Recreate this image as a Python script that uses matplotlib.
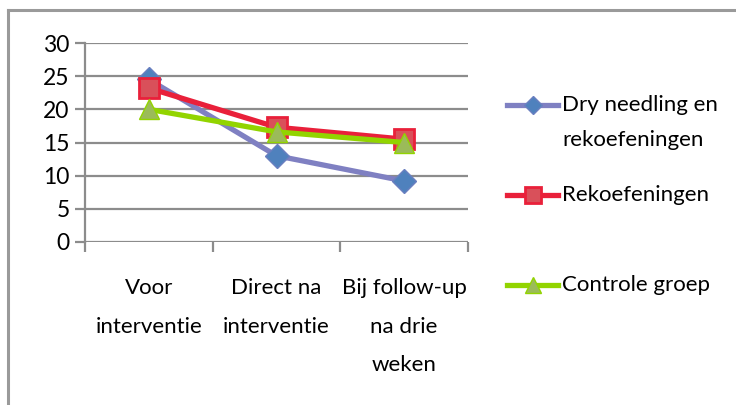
import matplotlib
matplotlib.use("Agg")
import matplotlib.pyplot as plt
from matplotlib.lines import Line2D

plt.rcParams['font.family'] = ['Lato', 'DejaVu Sans']

categories = ["Voor\ninterventie", "Direct na\ninterventie", "Bij follow-up\nna drie\nweken"]
series_names = ["Dry needling en\nrekoefeningen", "Rekoefeningen", "Controle groep"]
dry_needling = [24.5, 13.0, 9.2]
rekoefeningen = [23.2, 17.3, 15.5]
controle = [20.0, 16.6, 15.0]
y_ticks = [0, 5, 10, 15, 20, 25, 30]

styles = [
    dict(color="#7f80c2", marker="D", markersize=12, markerfacecolor="#4f81bd",
         markeredgecolor="#6a7fc0", zorder=3),
    dict(color="#e9203a", marker="s", markersize=14, markerfacecolor="#d9505a",
         markeredgecolor="#e9203a", markeredgewidth=2, zorder=4),
    dict(color="#92d400", marker="^", markersize=15, markerfacecolor="#9bbb59",
         markeredgecolor="#92d400", zorder=5),
]
values = [dry_needling, rekoefeningen, controle]

W, H = 736, 405
fig = plt.figure(figsize=(W / 100, H / 100), dpi=100)
fig.patch.set_facecolor("white")

def fx(px):
    return px / W

def fy(py):
    return 1 - py / H

# outer chart frame (top and left edges)
fig.add_artist(Line2D([fx(8), 1.0], [fy(10), fy(10)], color="#9a9a9a", lw=2.2))
fig.add_artist(Line2D([fx(8), fx(8)], [fy(10), 0.0], color="#9a9a9a", lw=2.2))

ax = fig.add_axes([fx(85), fy(242), fx(468) - fx(85), fy(43) - fy(242)])
ax.set_xlim(-0.5, 2.5)
ax.set_ylim(0, 30)
x = list(range(len(categories)))

for vals, st in zip(values, styles):
    ax.plot(x, vals, lw=3.8, solid_joinstyle="round", clip_on=False, **st)

grid_color = "#8c8c8c"
for t in y_ticks:
    ax.axhline(t, color=grid_color, lw=1.6, zorder=1)
for s in ["top", "right", "bottom"]:
    ax.spines[s].set_visible(False)
ax.spines["left"].set_color(grid_color)
ax.spines["left"].set_linewidth(1.6)

ax.set_yticks(y_ticks)
ax.set_yticklabels([str(t) for t in y_ticks], fontsize=16.5)
ax.tick_params(axis="y", length=7, width=1.6, color=grid_color, pad=4)

# category boundary ticks below the axis
ax.set_xticks([-0.5, 0.5, 1.5, 2.5])
ax.set_xticklabels([])
ax.tick_params(axis="x", length=7, width=1.6, color=grid_color)
ax.set_xticks(x, minor=True)
ax.set_xticklabels(categories, minor=True, fontsize=16, linespacing=2.15, va="top")
ax.tick_params(axis="x", which="minor", length=0, pad=26)

# legend drawn to the right of the plot
leg_rows = [105, 195, 285]
line_step = 35
for name, st, row in zip(series_names, styles, leg_rows):
    fig.add_artist(Line2D([fx(507), fx(558)], [fy(row), fy(row)], lw=3.8,
                          color=st["color"]))
    fig.add_artist(Line2D([fx(532.5)], [fy(row)], lw=0, marker=st["marker"],
                          markersize=st["markersize"] * 0.8,
                          markerfacecolor=st["markerfacecolor"],
                          markeredgecolor=st["markeredgecolor"],
                          markeredgewidth=st.get("markeredgewidth", 1)))
    for i, part in enumerate(name.split("\n")):
        fig.text(fx(562), fy(row + i * line_step), part, fontsize=16,
                 ha="left", va="center")

fig.savefig("out.png", dpi=100, facecolor="white")
